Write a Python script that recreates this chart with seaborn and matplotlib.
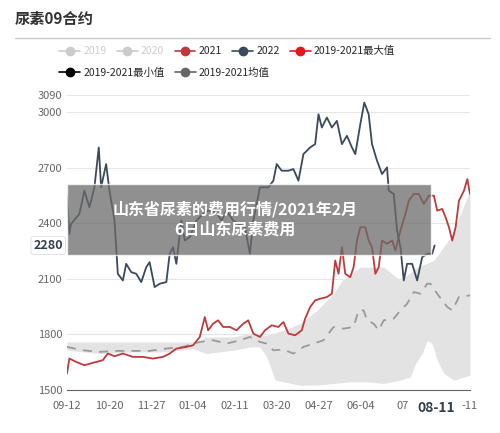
import numpy as np
import pandas as pd
import matplotlib
matplotlib.use("Agg")
import matplotlib.pyplot as plt
from matplotlib.lines import Line2D
import seaborn as sns

sns.set_style("white")
plt.rcParams['font.family'] = ['Noto Sans CJK SC', 'DejaVu Sans']

s22_x = [203,210,215,240,255,270,285,298,305,320,330,345,355,370,380,395,410,425,440,450,465,480,500,510,520,530,545,555,570,590,610,625,650,665,680,700,715,735,750,760,780,805,820,830,845,865,880,895,910,930,945,955,965,980,995,1010,1025,1040,1055,1065,1080,1092,1105,1115,1130,1145,1160,1165,1180,1190,1200,1210,1220,1235,1250,1265,1280,1295,1302]
s22_y = [345,460,430,400,330,380,320,200,320,250,330,420,580,600,550,575,580,605,560,545,620,610,605,520,500,550,420,480,470,420,400,390,395,420,390,420,430,440,520,420,320,320,300,250,270,270,265,300,220,200,190,100,140,110,140,120,190,165,200,220,130,65,100,190,240,280,260,330,340,450,500,600,550,550,600,530,520,520,495]
s21_x = [203,210,230,255,280,310,325,345,370,400,430,460,490,510,530,560,580,600,615,625,640,655,670,690,710,730,745,760,780,795,815,835,850,865,885,905,915,930,945,960,980,995,1005,1015,1025,1035,1050,1060,1070,1080,1095,1105,1115,1125,1135,1145,1160,1175,1185,1200,1215,1225,1240,1255,1270,1285,1300,1310,1325,1335,1345,1355,1365,1375,1390,1400,1408]
s21_y = [880,835,845,855,848,840,820,828,820,830,830,835,830,820,805,800,795,770,710,750,730,720,740,740,750,730,720,760,770,750,735,740,725,760,765,750,715,680,660,655,650,640,540,580,500,580,590,560,480,440,440,480,500,580,560,480,490,480,510,450,400,360,340,340,370,345,345,390,385,410,440,480,440,360,330,295,340]
avg_x = [203,250,300,350,400,450,500,550,600,640,680,720,750,780,800,820,850,880,910,940,970,1000,1030,1060,1075,1090,1100,1120,1135,1150,1180,1200,1220,1240,1260,1280,1290,1310,1340,1355,1375,1408]
avg_y = [800,810,815,812,812,812,805,800,785,780,790,780,770,785,790,810,808,820,800,790,780,740,745,740,690,690,720,730,750,720,715,690,670,635,640,610,610,640,680,690,650,645]
max_x = [203,600,615,625,700,745,800,850,900,950,1000,1025,1080,1150,1200,1250,1300,1350,1400,1408]
max_y = [785,785,770,770,770,760,765,750,730,690,640,600,560,560,600,560,540,470,350,320]
min_x = [203,300,400,500,580,620,700,750,780,800,815,825,850,900,950,1000,1050,1100,1150,1200,1230,1245,1265,1280,1295,1310,1330,1360,1408]
min_y = [810,820,815,815,805,820,810,800,800,830,870,900,905,915,915,910,905,905,910,900,890,850,820,780,790,840,880,900,885]

tick_days = [0, 38, 76, 114, 152, 190, 228, 266, 304, 334, 365]
tick_labels = ["09-12","10-20","11-27","01-04","02-11","03-20","04-27","06-04","07","08-11","-11"]
y_ticks = [1500, 1800, 2100, 2400, 2700, 3000, 3090]

def day(zx): return (np.array(zx) - 203) * 365 / 1205
def val(zy): return 1500 + (930 - np.array(zy)) * 1590 / 887

fig = plt.figure(figsize=(5, 4.33), dpi=100)
ax = fig.add_axes([0.134, 0.099, 0.806, 0.681])

grid = np.arange(0, 366)
upper = np.interp(grid, day(max_x), val(max_y))
lower = np.interp(grid, day(min_x), val(min_y))
ax.fill_between(grid, lower, upper, color="#e3e3e3", lw=0, zorder=1)

d22 = pd.DataFrame({"d": day(s22_x), "v": val(s22_y)})
d21 = pd.DataFrame({"d": day(s21_x), "v": val(s21_y)})
dav = pd.DataFrame({"d": day(avg_x), "v": val(avg_y)})
sns.lineplot(data=dav, x="d", y="v", ax=ax, color="#9a9a9a", lw=1.3, ls=(0, (5, 4)), zorder=2)
sns.lineplot(data=d21, x="d", y="v", ax=ax, color="#c0393b", lw=1.3, zorder=3)
sns.lineplot(data=d22, x="d", y="v", ax=ax, color="#3b4a5a", lw=1.3, zorder=4)

ax.set_xlim(0, 365); ax.set_ylim(1500, 3090)
ax.set_xticks(tick_days); ax.set_xticklabels(tick_labels)
ax.set_yticks(y_ticks)
ax.set_xlabel(""); ax.set_ylabel("")
ax.tick_params(axis='both', labelsize=8, colors="#666666", length=0)
ax.tick_params(axis='x', length=4, color="#666666")
ax.xaxis.get_ticklabels()[9].set_fontweight("bold")
ax.xaxis.get_ticklabels()[9].set_fontsize(10)
ax.xaxis.get_ticklabels()[9].set_color("#333f4b")
ax.grid(axis='y', color="#e6e6e6", lw=0.8)
for s in ["top", "right", "left"]:
    ax.spines[s].set_visible(False)
ax.spines["bottom"].set_color("#666666")
ax.text(-0.01, 2280, "2280", transform=ax.get_yaxis_transform(), ha="right", va="center",
        fontsize=9, fontweight="bold", color="#333f4b",
        bbox=dict(boxstyle="round,pad=0.2", fc="white", ec="#dddddd", lw=0.6))

fig.text(0.03, 0.945, "尿素09合约", fontsize=11, fontweight="bold", color="#333333")
fig.add_artist(Line2D([0.03, 0.98], [0.912, 0.912], color="#cccccc", lw=1))

def h(c): return Line2D([], [], color=c, marker="o", ms=6, lw=1.2)
leg1 = fig.legend([h("#cccccc"), h("#cccccc"), h("#c0393b"), h("#3b4a5a"), h("#e8141b")],
                  ["2019", "2020", "2021", "2022", "2019-2021最大值"],
                  loc="upper left", bbox_to_anchor=(0.1, 0.915), ncol=5, frameon=False,
                  fontsize=7.5, handlelength=2, columnspacing=1.0, handletextpad=0.3)
for t in leg1.get_texts()[:2]:
    t.set_color("#cccccc")
fig.legend([h("#000000"), h("#666666")], ["2019-2021最小值", "2019-2021均值"],
           loc="upper left", bbox_to_anchor=(0.1, 0.865), ncol=2, frameon=False,
           fontsize=7.5, handlelength=2, columnspacing=1.0, handletextpad=0.3)

fig.patches.append(plt.Rectangle((0.134, 0.41), 0.728, 0.165, transform=fig.transFigure,
                                 fc="#6b6b6b", alpha=0.75, zorder=10))
fig.text(0.47, 0.493, "山东省尿素的费用行情/2021年2月\n6日山东尿素费用", ha="center", va="center",
         fontsize=11.5, fontweight="bold", color="white", linespacing=1.3, zorder=11)

fig.savefig("out.png", dpi=100)
